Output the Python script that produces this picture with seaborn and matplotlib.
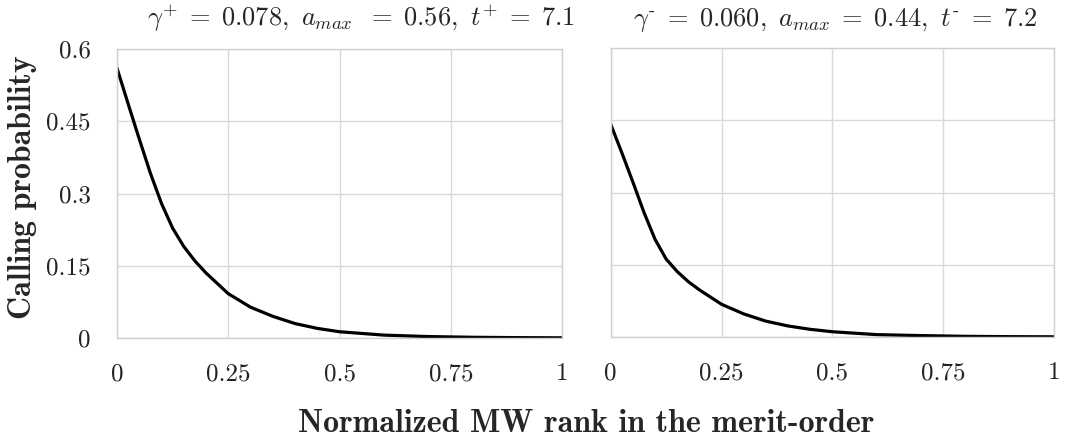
import matplotlib
matplotlib.use("Agg")
import matplotlib.pyplot as plt
import seaborn as sns
import pandas as pd

# Values
rank = [0, 0.025, 0.05, 0.075, 0.1, 0.125, 0.15, 0.175, 0.2, 0.25, 0.3,
        0.35, 0.4, 0.45, 0.5, 0.6, 0.7, 0.8, 0.9, 1.0]
prob_up = [0.56, 0.486, 0.413, 0.342, 0.279, 0.228, 0.190, 0.160, 0.135,
           0.092, 0.064, 0.045, 0.030, 0.020, 0.013, 0.006, 0.003, 0.0015,
           0.0008, 0.0004]
prob_down = [0.442, 0.383, 0.322, 0.259, 0.203, 0.162, 0.136, 0.115, 0.098,
             0.068, 0.048, 0.033, 0.023, 0.016, 0.011, 0.005, 0.003, 0.0015,
             0.0008, 0.0005]

x_ticks = [0, 0.25, 0.5, 0.75, 1]
x_tick_labels = ["0", "0.25", "0.5", "0.75", "1"]
y_ticks = [0, 0.15, 0.3, 0.45, 0.6]
y_tick_labels = ["0", "0.15", "0.3", "0.45", "0.6"]

title_up = r"$\gamma^{+}\;=\;0.078,\ a_{max}\ \;=\;0.56,\ t^{+}\;=\;7.1$"
title_down = r"$\gamma^{\text{-}}\;=\;0.060,\ a_{max}\;=\;0.44,\ t^{\text{-}}\;=\;7.2$"
x_label = "Normalized MW rank in the merit-order"
y_label = "Calling probability"

df = pd.DataFrame({"rank": rank, "up": prob_up, "down": prob_down})

sns.set_theme(style="whitegrid")
plt.rcParams["mathtext.fontset"] = "cm"
plt.rcParams["font.family"] = ["cmr10", "DejaVu Serif"]
plt.rcParams["axes.unicode_minus"] = False

fig = plt.figure(figsize=(10.65, 4.4), dpi=100)
ax1 = fig.add_axes([0.1099, 0.2318, 0.4178, 0.6568])
ax2 = fig.add_axes([0.5734, 0.2340, 0.4164, 0.6568])

for ax, col in [(ax1, "up"), (ax2, "down")]:
    sns.lineplot(data=df, x="rank", y=col, ax=ax, color="black", linewidth=2.3)
    ax.set_xlim(0, 1)
    ax.set_ylim(0, 0.6)
    ax.set_xticks(x_ticks)
    ax.set_xticklabels(x_tick_labels, fontsize=18, fontfamily="cmr10")
    ax.set_yticks(y_ticks)
    ax.set_yticklabels(y_tick_labels, fontsize=18, fontfamily="cmr10")
    ax.set_xlabel("")
    ax.set_ylabel("")
    ax.grid(True, color="#d9d9d9", linewidth=1)
    ax.tick_params(axis="x", length=0, pad=18, colors="#222222")
    ax.tick_params(axis="y", length=0, pad=19, colors="#222222")
    for s in ax.spines.values():
        s.set_color("#d0d0d0")
        s.set_linewidth(1)

ax2.tick_params(axis="y", labelleft=False)

fig.text(0.339, 0.941, title_up, fontsize=19, ha="center", va="baseline")
fig.text(0.784, 0.941, title_down, fontsize=19, ha="center", va="baseline")
fig.text(0.550, 0.018, x_label, fontsize=23, ha="center", va="baseline",
         fontfamily="cmb10")
fig.text(0.021, 0.575, y_label, fontsize=23, ha="center", va="center",
         rotation=90, fontfamily="cmb10")

fig.savefig("out.png", dpi=100)
